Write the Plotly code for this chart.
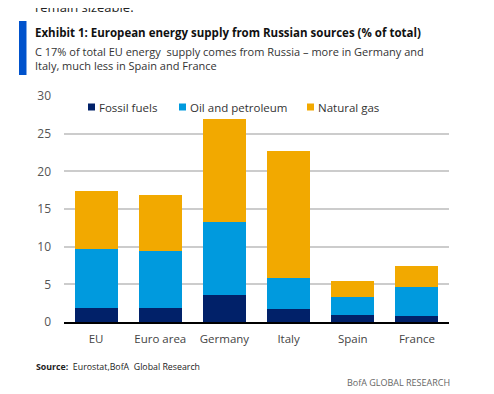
import plotly.graph_objects as go

categories = ["EU", "Euro area", "Germany", "Italy", "Spain", "France"]
fossil_fuels = [1.9, 1.9, 3.6, 1.7, 0.9, 0.8]
oil_petroleum = [7.8, 7.55, 9.7, 4.2, 2.4, 3.8]
natural_gas = [7.7, 7.35, 13.6, 16.8, 2.1, 2.8]
series_names = ["Fossil fuels", "Oil and petroleum", "Natural gas"]
series_colors = ["#012169", "#009ADE", "#F2A900"]
y_ticks = [0, 5, 10, 15, 20, 25, 30]

FONT = "Open Sans"
# page has an 8px body margin; figure is sized to fit the window
W, H = 486, 394 - 8
L, T, PW, PH = 56, 88, 385, 226


def px(X):  # reference page x -> paper x
    return (X - 8 - L) / PW


def py(Y):  # reference page y -> paper y
    return 1 - (Y - 8 - T) / PH


fig = go.Figure()
for name, vals, col in zip(series_names, [fossil_fuels, oil_petroleum, natural_gas], series_colors):
    fig.add_trace(go.Bar(x=categories, y=vals, name=name, marker_color=col,
                         marker_line_width=0, showlegend=False))

fig.update_layout(
    barmode="stack", bargap=0.33,
    width=W, height=H,
    margin=dict(l=L, r=W - L - PW, t=T, b=H - T - PH),
    paper_bgcolor="white", plot_bgcolor="white",
    font=dict(family=FONT, size=12, color="#555555"),
    showlegend=False,
)
fig.update_yaxes(range=[0, 30], tickvals=y_ticks, showgrid=True, gridcolor="#cccccc",
                 gridwidth=1.5, zeroline=False, ticks="", tickfont=dict(size=12, color="#555555"),
                 ticklabelstandoff=12, showline=False)
fig.update_xaxes(showline=True, linecolor="#000000", linewidth=1.5, ticks="",
                 ticklabelstandoff=5,
                 tickfont=dict(size=11.5, color="#444444"))

# manual legend
leg_x = [88, 179, 307]
for name, col, lx in zip(series_names, series_colors, leg_x):
    fig.add_shape(type="rect", xref="paper", yref="paper",
                  x0=px(lx), x1=px(lx + 7), y0=py(110.5), y1=py(103.5),
                  fillcolor=col, line_width=0)
    fig.add_annotation(xref="paper", yref="paper", x=px(lx + 9), y=py(107),
                       xanchor="left", yanchor="middle", showarrow=False,
                       text=name, font=dict(size=11.5, color="#333333", family=FONT))

fig.add_shape(type="rect", xref="paper", yref="paper",
              x0=px(19), x1=px(26.5), y0=py(75), y1=py(21),
              fillcolor="#0052CC", line_width=0)
fig.add_annotation(xref="paper", yref="paper", x=px(33), y=py(32),
                   xanchor="left", yanchor="middle", showarrow=False,
                   text="<b>Exhibit 1: European energy supply from Russian sources (% of total)</b>",
                   font=dict(size=11.5, color="#111111", family=FONT))
fig.add_annotation(xref="paper", yref="paper", x=px(33), y=py(58.5),
                   xanchor="left", yanchor="middle", showarrow=False, align="left",
                   text="C 17% of total EU energy  supply comes from Russia – more in Germany and<br>Italy, much less in Spain and France",
                   font=dict(size=11, color="#333333", family=FONT))
fig.add_annotation(xref="paper", yref="paper", x=px(33), y=py(7),
                   xanchor="left", yanchor="middle", showarrow=False,
                   text="remain sizeable.", font=dict(size=13, color="#222222", family=FONT))
fig.add_annotation(xref="paper", yref="paper", x=px(34), y=py(367),
                   xanchor="left", yanchor="middle", showarrow=False,
                   text="<b>Source:</b>  Eurostat,BofA  Global Research",
                   font=dict(size=8.8, color="#222222", family=FONT))
fig.add_annotation(xref="paper", yref="paper", x=px(452), y=py(382),
                   xanchor="right", yanchor="middle", showarrow=False,
                   text="BofA GLOBAL RESEARCH",
                   font=dict(size=9, color="#666666", family=FONT))

fig.write_html("out.html")
